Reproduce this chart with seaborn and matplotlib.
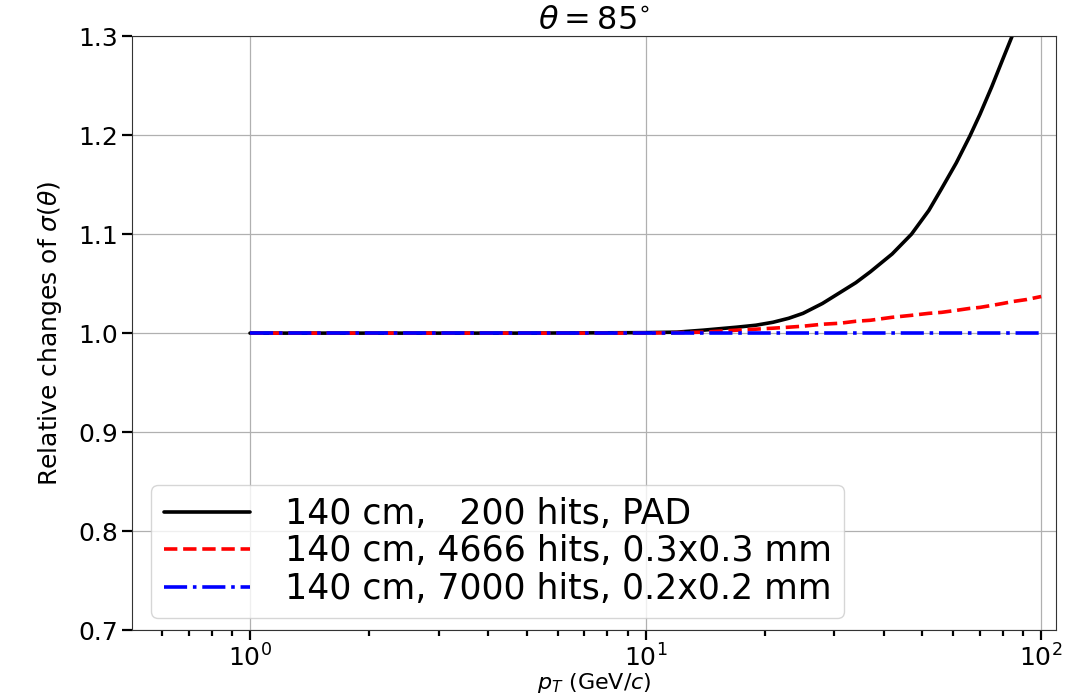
import numpy as np
import pandas as pd
import matplotlib
matplotlib.use("Agg")
import matplotlib.pyplot as plt
import seaborn as sns

# values
pt = [1, 2, 5, 10, 12, 14, 17, 19, 21, 23, 25, 28, 31, 34, 37, 42, 47, 52,
      56, 61, 66, 70, 75, 80, 85, 92, 100]
pad_200 = [1.0, 1.0, 1.0, 1.0005, 1.001, 1.003, 1.006, 1.008, 1.011, 1.015,
           1.020, 1.030, 1.041, 1.051, 1.062, 1.080, 1.100, 1.124, 1.146,
           1.172, 1.199, 1.221, 1.249, 1.277, 1.303, 1.347, 1.395]
pix_4666 = [1.0, 1.0, 1.0, 1.0, 1.0005, 1.001, 1.003, 1.004, 1.005, 1.006,
            1.007, 1.009, 1.010, 1.012, 1.013, 1.016, 1.018, 1.020, 1.021,
            1.023, 1.025, 1.026, 1.028, 1.030, 1.032, 1.034, 1.037]
pix_7000 = [1.0] * len(pt)
labels = ["140 cm,   200 hits, PAD",
          "140 cm, 4666 hits, 0.3x0.3 mm",
          "140 cm, 7000 hits, 0.2x0.2 mm"]
colors = ["black", "red", "blue"]
styles = ["-", "--", "-."]

sns.set_style("ticks")
plt.rcParams['font.family'] = ['DejaVu Sans']
plt.rcParams['text.color'] = 'black'
plt.rcParams['axes.labelcolor'] = 'black'
plt.rcParams['xtick.color'] = 'black'
plt.rcParams['ytick.color'] = 'black'

fig = plt.figure(figsize=(10.71, 6.97), dpi=100)
ax = fig.add_axes([0.1232, 0.0961, 0.8628, 0.8519])

for vals, lab, c, ls in zip([pad_200, pix_4666, pix_7000], labels, colors, styles):
    df = pd.DataFrame({"pt": pt, "val": vals})
    sns.lineplot(data=df, x="pt", y="val", ax=ax, color=c, linestyle=ls,
                 linewidth=2.6, label=lab)

ax.set_xscale("log")
ax.set_xlim(0.503, 109)
ax.set_ylim(0.7, 1.3)
ax.set_yticks(np.arange(0.7, 1.31, 0.1))
ax.grid(True, which="major", color="#b0b0b0", linewidth=0.9)
for s in ax.spines.values():
    s.set_color("#333333")
ax.tick_params(axis="both", which="major", labelsize=18, length=7, width=1.6,
               pad=3)
ax.tick_params(axis="x", which="minor", length=4, width=1.6)

ax.set_title(r"$\theta = 85^{\circ}$", fontsize=23, pad=3)
ax.set_xlabel(r"$p_T$ (GeV/$c$)", fontsize=16, labelpad=0)
ax.set_ylabel(r"Relative changes of $\sigma(\theta)$", fontsize=18, labelpad=10)

ax.legend(loc="lower left", bbox_to_anchor=(0.008, 0.0), fontsize=25,
          handlelength=2.5, handletextpad=1.0, borderaxespad=0.35,
          labelspacing=0.1, borderpad=0.35, frameon=True)

fig.savefig("out.png", dpi=100)
